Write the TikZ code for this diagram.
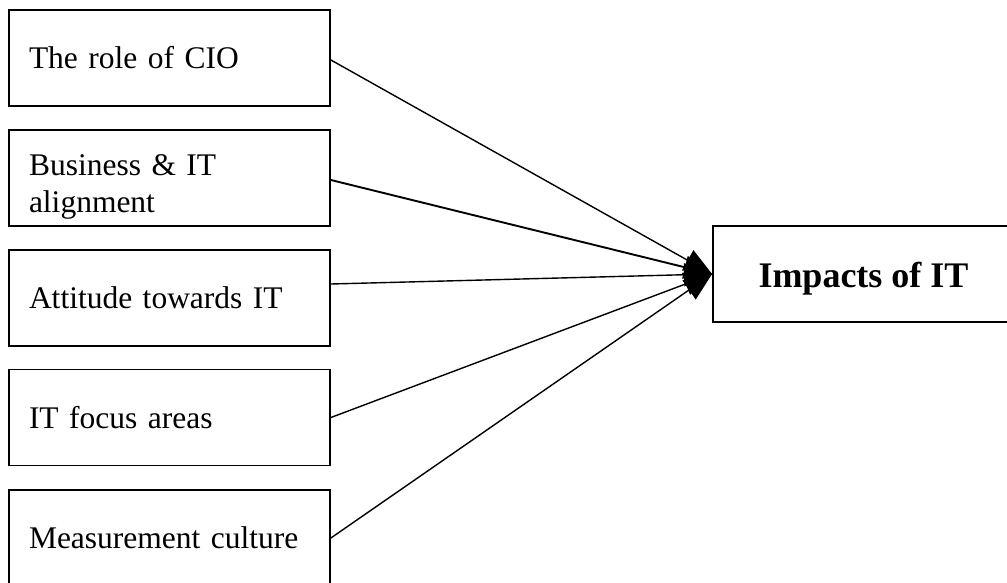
\documentclass[tikz,border=0pt]{standalone}
\usepackage{fontspec}
\setmainfont{Liberation Serif}
\usetikzlibrary{arrows.meta}

\tikzset{
  factor/.style={draw, line width=1.8pt, rectangle, minimum width=321pt, minimum height=96pt,
    inner xsep=20pt, text width=281pt, align=left,
    font=\fontsize{31.5}{37}\selectfont},
  outcome/.style={draw, line width=1.8pt, rectangle, minimum width=301pt, minimum height=96pt,
    text height=30pt, text depth=4pt,
    font=\fontsize{36}{40}\selectfont\bfseries},
  link/.style={line width=1.4pt, -{Triangle[length=28pt,width=23pt]}}
}

\begin{document}
\begin{tikzpicture}[x=1pt,y=-1pt]
  \useasboundingbox (0,0) rectangle (1007,583);
  \clip (0,0) rectangle (1007,583);

  % influencing factors
  \node[factor] (cio)   at (169.5,58)  {The role of CIO};
  \node[factor] (align) at (169.5,178) {\rule{0pt}{38pt}Business \& IT\\alignment};
  \node[factor] (att)   at (169.5,298) {Attitude towards IT};
  \node[factor] (focus) at (169.5,417.5) {IT focus areas};
  \node[factor] (meas)  at (169.5,538) {Measurement culture};

  % outcome
  \node[outcome] (imp) at (863.5,274) {Impacts of IT};

  % connectors
  \draw[link] ([yshift=-2pt]cio.east) -- (imp.west);
  \draw[link, line width=1.9pt] ([yshift=-2pt]align.east) -- (imp.west);
  \draw[link] ([yshift=14pt]att.east) -- (imp.west);
  \draw[link] (focus.east) -- (imp.west);
  \draw[link] (meas.east) -- (imp.west);
\end{tikzpicture}
\end{document}
